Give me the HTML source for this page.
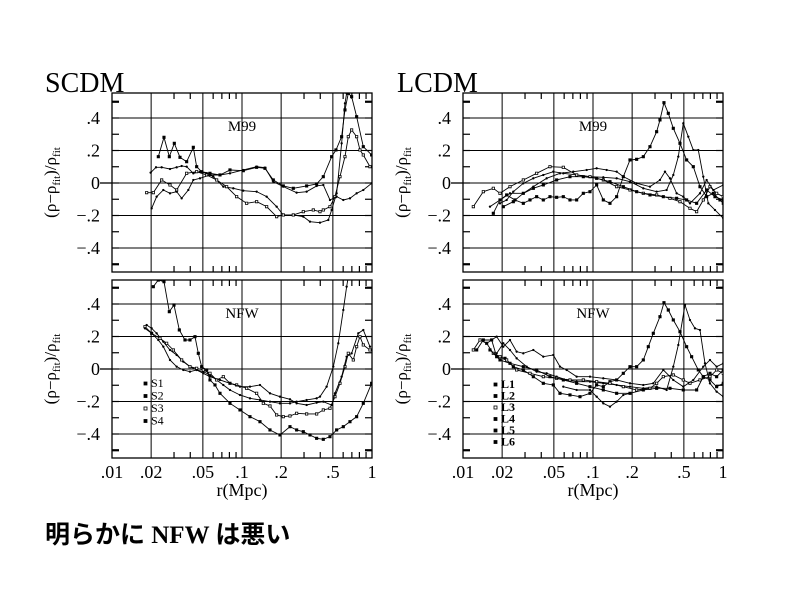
<!DOCTYPE html>
<html><head><meta charset="utf-8"><style>
body{margin:0;background:#fff}
svg{display:block}
text{font-family:"Liberation Serif","Noto Serif CJK SC",serif;fill:#000}
</style></head><body>
<svg id="s" width="800" height="600" viewBox="0 0 800 600" xmlns="http://www.w3.org/2000/svg">
<text x="45" y="92" font-size="28">SCDM</text>
<text x="397" y="92" font-size="28">LCDM</text>
<text x="45" y="543" font-size="25" font-weight="bold" style="font-family:'Liberation Serif','Noto Sans CJK JP',sans-serif">明らかに NFW は悪い</text>
<g id="g"></g>
</svg>
<script>
const NS="http://www.w3.org/2000/svg",G=document.getElementById('g');
function el(t,a,p){const e=document.createElementNS(NS,t);for(const k in a)e.setAttribute(k,a[k]);(p||G).appendChild(e);return e;}
function txt(x,y,s,sz,anc,extra){const e=el('text',Object.assign({x:x,y:y,'font-size':sz,'text-anchor':anc||'start'},extra||{}));e.textContent=s;return e;}
function panel(x0,top,bot,zero,label,xlabels){
  const W=260,k=162.5;
  const X=v=>x0+130*Math.log10(v/0.01);
  const Y=v=>zero-k*v;
  el('rect',{x:x0,y:top,width:W,height:bot-top,fill:'none',stroke:'#000','stroke-width':1.3});
  [.02,.05,.1,.2,.5].forEach(v=>el('line',{x1:X(v),x2:X(v),y1:top,y2:bot,stroke:'#000','stroke-width':1}));
  [-.4,-.2,0,.2,.4].forEach(v=>el('line',{x1:x0,x2:x0+W,y1:Y(v),y2:Y(v),stroke:'#000','stroke-width':1}));
  el('line',{x1:x0-12,x2:x0,y1:Y(0),y2:Y(0),stroke:'#000','stroke-width':1.3});
  [.03,.04,.06,.07,.08,.09,.3,.4,.6,.7,.8,.9].forEach(v=>{
    el('line',{x1:X(v),x2:X(v),y1:top,y2:top+6,stroke:'#000','stroke-width':1.2});
    el('line',{x1:X(v),x2:X(v),y1:bot,y2:bot-6,stroke:'#000','stroke-width':1.2});});
  for(let v=-.5;v<=.51;v+=.1){const y=Y(v),w=Math.abs(Math.abs(v)-.5)<.01?2.2:1.2;
    el('line',{x1:x0,x2:x0+7,y1:y,y2:y,stroke:'#000','stroke-width':w});
    el('line',{x1:x0+W,x2:x0+W-7,y1:y,y2:y,stroke:'#000','stroke-width':w});}
  [[.4,'.4'],[.2,'.2'],[0,'0'],[-.2,'\u2212.2'],[-.4,'\u2212.4']].forEach(a=>txt(x0-12,Y(a[0])+6,a[1],18,'end'));
  txt(x0+130,top+38,label,15,'middle');
  const yl=el('text',{transform:`translate(${x0-56},${(top+bot)/2}) rotate(-90)`,'font-size':17,'text-anchor':'middle'});
  yl.innerHTML='(\u03C1\u2212\u03C1<tspan font-size="11" dy="4">fit</tspan><tspan dy="-4">)/\u03C1</tspan><tspan font-size="11" dy="4">fit</tspan>';
  if(xlabels){[[.01,'.01'],[.02,'.02'],[.05,'.05'],[.1,'.1'],[.2,'.2'],[.5,'.5'],[1,'1']].forEach(a=>txt(X(a[0]),bot+20,a[1],18,'middle'));
    txt(x0+130,bot+38,'r(Mpc)',18,'middle');}
}
panel(112,93,272,183,'M99',false);
panel(112,280,458,369,'NFW',true);
panel(463,93,272,183,'M99',false);
panel(463,280,458,369,'NFW',true);
let cid=0;
function curves(tx,ty,list,px0,top,bot){
  const id='c'+(cid++);
  const cp=el('clipPath',{id:id,clipPathUnits:'userSpaceOnUse'});
  el('rect',{x:(px0-tx)*3,y:(top-ty)*3,width:260*3,height:(bot-top)*3},cp);
  const g=el('g',{transform:`translate(${tx},${ty}) scale(0.3333)`,'clip-path':`url(#${id})`});
  list.forEach((s,i)=>{const p=s.trim().split(/\s+/);
    el('polyline',{points:s,fill:'none',stroke:'#000','stroke-width':0.9,'vector-effect':'non-scaling-stroke'},g);
    p.forEach((q,j)=>{const [a,b]=q.split(',').map(Number);
      if(i%2==0)el('rect',{x:a-3.5,y:b-3.5,width:7,height:7,fill:i==2?'#fff':'#000',stroke:'#000','stroke-width':0.8,'vector-effect':'non-scaling-stroke'},g);
      else el('circle',{cx:a,cy:b,r:3.5,fill:'#000'},g);});
  });
}
curves(30,60,[
"385,290 402,232 418,290 433,250 450,292 470,305 490,262 500,320 515,335 540,340 570,345 600,330 640,332 680,322 705,325 730,360 760,378 790,385 830,378 860,372 880,350 905,290 918,270 935,230 945,150 955,100 965,110 980,170 1000,260 1025,285",
"362,338 378,322 395,322 420,327 440,322 455,318 470,320 490,340 510,335 530,340 550,350 580,380 610,385 640,392 680,395 710,410 740,440 760,465 790,465 820,470 840,485 870,488 895,480 905,450 920,400 935,250 945,130 950,100 960,60",
"350,398 370,398 395,360 420,375 440,390 470,340 500,335 530,345 560,360 590,380 620,410 650,430 680,425 710,440 740,470 760,465 790,465 820,455 850,450 870,455 880,450 900,440 915,410 930,350 945,290 955,230 965,210 980,230 990,270 1000,285 1020,320",
"365,445 380,410 400,390 420,400 440,395 455,415 475,390 490,360 510,355 540,345 570,345 600,340 640,330 680,320 705,323 730,365 760,380 800,398 830,395 860,378 880,375 900,420 920,410 940,420 960,415 980,400 1000,390 1025,370"],112,93,272);
curves(30,270,[
"370,50 385,30 402,35 418,125 432,105 448,180 465,210 480,210 495,200 505,250 515,290 530,300 540,330 555,345 570,370 600,400 630,420 660,440 690,455 720,480 750,495 780,470 800,480 820,485 840,495 860,505 880,508 900,500 920,480 940,470 960,455 980,440 1000,400 1025,340",
"350,165 365,175 380,190 400,215 420,240 440,255 460,275 480,290 500,300 520,305 540,315 560,330 580,345 600,360 630,375 660,385 690,390 720,395 750,400 780,400 800,395 830,390 860,385 870,380 890,350 910,290 925,220 940,120 950,50 955,20",
"345,170 365,190 390,205 410,220 430,240 455,270 480,290 500,295 520,300 540,310 560,330 580,320 600,340 620,345 650,355 680,370 700,400 720,408 740,435 760,440 780,438 800,430 830,432 860,432 880,420 900,415 915,380 930,340 945,290 955,250 970,270 980,230 990,200 1000,225 1020,240",
"345,175 365,190 385,210 400,230 420,270 440,290 460,300 480,305 500,300 520,310 540,320 570,330 600,340 630,350 660,350 690,345 720,370 750,380 780,388 800,400 830,405 860,398 880,395 905,405 915,370 935,320 950,260 965,250 985,190 1000,180 1020,230"],112,280,458);
curves(390,60,[
"310,460 330,420 350,405 375,420 400,430 420,420 440,410 460,420 480,410 500,412 520,410 540,420 560,420 580,400 600,395 620,375 640,420 660,430 680,410 700,350 720,300 740,298 760,290 780,260 800,215 810,180 822,128 835,160 850,205 870,250 890,300 910,320 930,380 950,410 970,400 990,420 1000,430",
"330,430 350,420 370,395 400,370 430,355 460,345 490,335 520,340 560,345 600,350 640,352 680,355 720,365 760,385 800,395 830,390 850,345 865,290 880,190 895,230 910,270 925,270 940,350 955,430 975,450 1000,475",
"250,440 280,395 310,385 330,400 360,380 400,360 440,340 480,320 520,322 560,345 600,350 640,360 680,380 720,390 760,400 800,405 840,415 870,425 900,445 920,455 940,420 960,380 980,400 1000,410",
"300,440 330,420 360,400 400,400 430,380 470,355 510,340 550,335 590,330 620,325 650,330 680,335 700,350 740,370 780,380 810,360 825,335 840,355 860,400 880,410 900,430 930,400 950,360 970,390 1000,375",
"340,440 370,425 400,400 430,385 460,375 500,360 540,350 580,350 620,355 660,365 700,380 740,395 780,405 820,410 860,415 890,420 920,430 950,390 975,410 1000,420"],463,93,272);
curves(390,270,[
"260,240 280,210 305,210 320,260 345,265 370,290 400,300 430,320 460,340 490,345 510,370 540,375 570,380 600,370 620,345 640,350 660,335 680,330 700,310 720,290 740,290 760,270 775,230 790,190 810,140 822,98 835,120 850,150 870,185 890,230 905,260 925,300 940,320 960,310 980,320 1000,300",
"320,250 340,220 360,240 380,265 410,290 440,305 470,310 500,320 530,330 560,335 600,335 640,340 680,345 720,350 760,355 800,350 830,360 850,290 865,225 885,105 900,150 915,175 930,180 945,280 960,340 980,365 1000,380",
"250,240 270,210 290,220 310,250 330,260 350,270 380,300 420,310 460,320 500,325 540,330 580,330 620,335 660,340 700,350 740,360 780,355 800,340 820,320 850,315 880,330 900,340 930,330 960,320 980,300 1000,310",
"290,220 320,200 340,230 360,210 380,245 400,250 430,240 460,260 490,255 510,290 530,300 560,320 600,320 640,325 680,330 720,340 760,345 790,340 820,300 850,330 880,350 910,330 940,290 960,270 980,290 1000,280",
"300,240 330,270 360,280 400,290 440,300 480,320 520,330 560,340 600,350 640,360 680,370 720,370 760,360 800,355 840,355 880,360 920,360 940,320 960,330 980,350 1000,340",
"520,350 560,360 600,360 620,380 640,400 660,410 680,395 700,375 720,370"],463,280,458);
["S1","S2","S3","S4"].forEach((s,i)=>{const y=386+i*12.5;el('rect',{x:144,y:y-4,width:3,height:3,fill:i==2?'#fff':'#000',stroke:'#000','stroke-width':.8});txt(151,y+1,s,12);});
["L1","L2","L3","L4","L5","L6"].forEach((s,i)=>{const y=387+i*11.5;el('rect',{x:494,y:y-4,width:3,height:3,fill:i==2?'#fff':'#000',stroke:'#000','stroke-width':.8});txt(501,y+1,s,12,'start',{'font-weight':'bold'});});
</script>
</body></html>
